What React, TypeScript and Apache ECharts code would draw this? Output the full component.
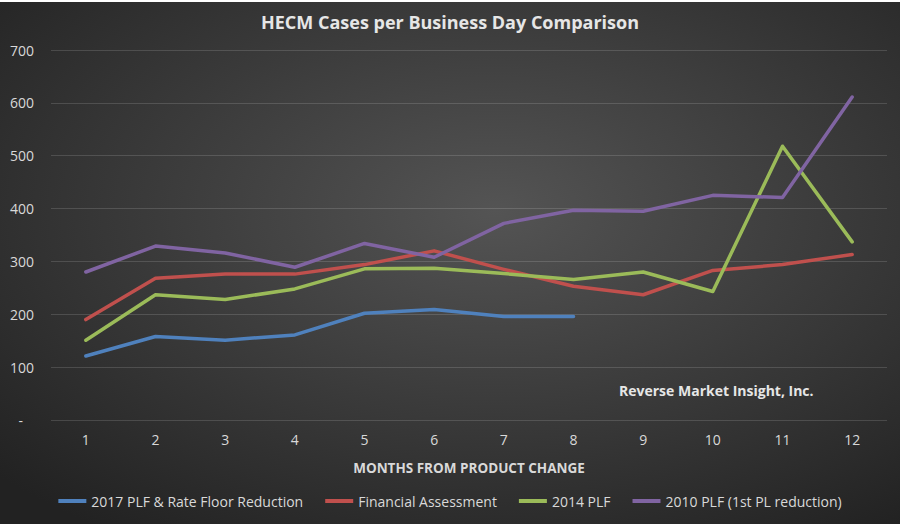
import React, { useEffect, useRef } from "react";
import * as echarts from "echarts";

const months = ["1", "2", "3", "4", "5", "6", "7", "8", "9", "10", "11", "12"];
const seriesNames = [
  "2017 PLF & Rate Floor Reduction",
  "Financial Assessment",
  "2014 PLF",
  "2010 PLF (1st PL reduction)",
];
const plf2017 = [121, 158, 151, 161, 202, 209, 196, 196];
const financialAssessment = [190, 268, 276, 276, 294, 320, 285, 253, 237, 283, 294, 313];
const plf2014 = [151, 237, 228, 248, 286, 287, 277, 266, 280, 243, 518, 337];
const plf2010 = [280, 329, 316, 289, 334, 308, 372, 397, 395, 425, 421, 611];
const colors = ["#4f81bd", "#c0504d", "#9bbb59", "#8064a2"];

const FONT = "'Open Sans', 'Noto Sans', sans-serif";

export default function App() {
  const ref = useRef<HTMLDivElement>(null);
  useEffect(() => {
    if (!ref.current) return;
    const chart = echarts.init(ref.current, undefined, { renderer: "svg" });
    const data = [plf2017, financialAssessment, plf2014, plf2010];
    chart.setOption({
      animation: false,
      backgroundColor: {
        type: "radial",
        x: 0.55,
        y: 0.4,
        r: 0.75,
        colorStops: [
          { offset: 0, color: "#545454" },
          { offset: 1, color: "#222222" },
        ],
      },
      title: {
        text: "HECM Cases per Business Day Comparison",
        left: "center",
        top: 6,
        textStyle: { color: "#e6e6e6", fontFamily: FONT, fontSize: 18, fontWeight: "bold" },
      },
      legend: {
        bottom: 11,
        left: "center",
        icon: "rect",
        itemWidth: 28,
        itemHeight: 4,
        itemGap: 22,
        textStyle: { color: "#d9d9d9", fontFamily: FONT, fontSize: 14 },
        data: seriesNames,
      },
      grid: { left: 51, right: 13, top: 48, bottom: 104 },
      xAxis: {
        type: "category",
        data: months,
        boundaryGap: true,
        axisLine: { show: false },
        axisTick: { show: false },
        axisLabel: { color: "#d9d9d9", fontFamily: FONT, fontSize: 14, margin: 12 },
        name: "MONTHS FROM PRODUCT CHANGE",
        nameLocation: "middle",
        nameGap: 41,
        nameTextStyle: { color: "#d9d9d9", fontFamily: FONT, fontSize: 13.5, fontWeight: "bold" },
      },
      yAxis: {
        type: "value",
        min: 0,
        max: 700,
        interval: 100,
        axisLine: { show: false },
        axisTick: { show: false },
        axisLabel: {
          color: "#d9d9d9",
          fontFamily: FONT,
          fontSize: 14,
          margin: 17,
          formatter: (v: number) => (v === 0 ? "-   " : String(v)),
        },
        splitLine: { lineStyle: { color: "rgba(255,255,255,0.14)", width: 1 } },
      },
      graphic: [
        {
          type: "text",
          left: 619,
          top: 381,
          style: {
            text: "Reverse Market Insight, Inc.",
            fill: "#e6e6e6",
            font: `bold 14px ${FONT}`,
          },
        },
      ],
      series: seriesNames.map((name, i) => ({
        name,
        type: "line",
        data: data[i],
        symbol: "none",
        color: colors[i],
        lineStyle: { width: 3.5, color: colors[i], cap: "round", join: "round" },
      })),
    });
    return () => chart.dispose();
  }, []);
  return (
    <div style={{ position: "fixed", left: 0, top: 0, width: 902, height: 526, background: "#fff" }}>
      <div ref={ref} style={{ position: "absolute", left: 0, top: 2, width: 900, height: 522 }} />
    </div>
  );
}
